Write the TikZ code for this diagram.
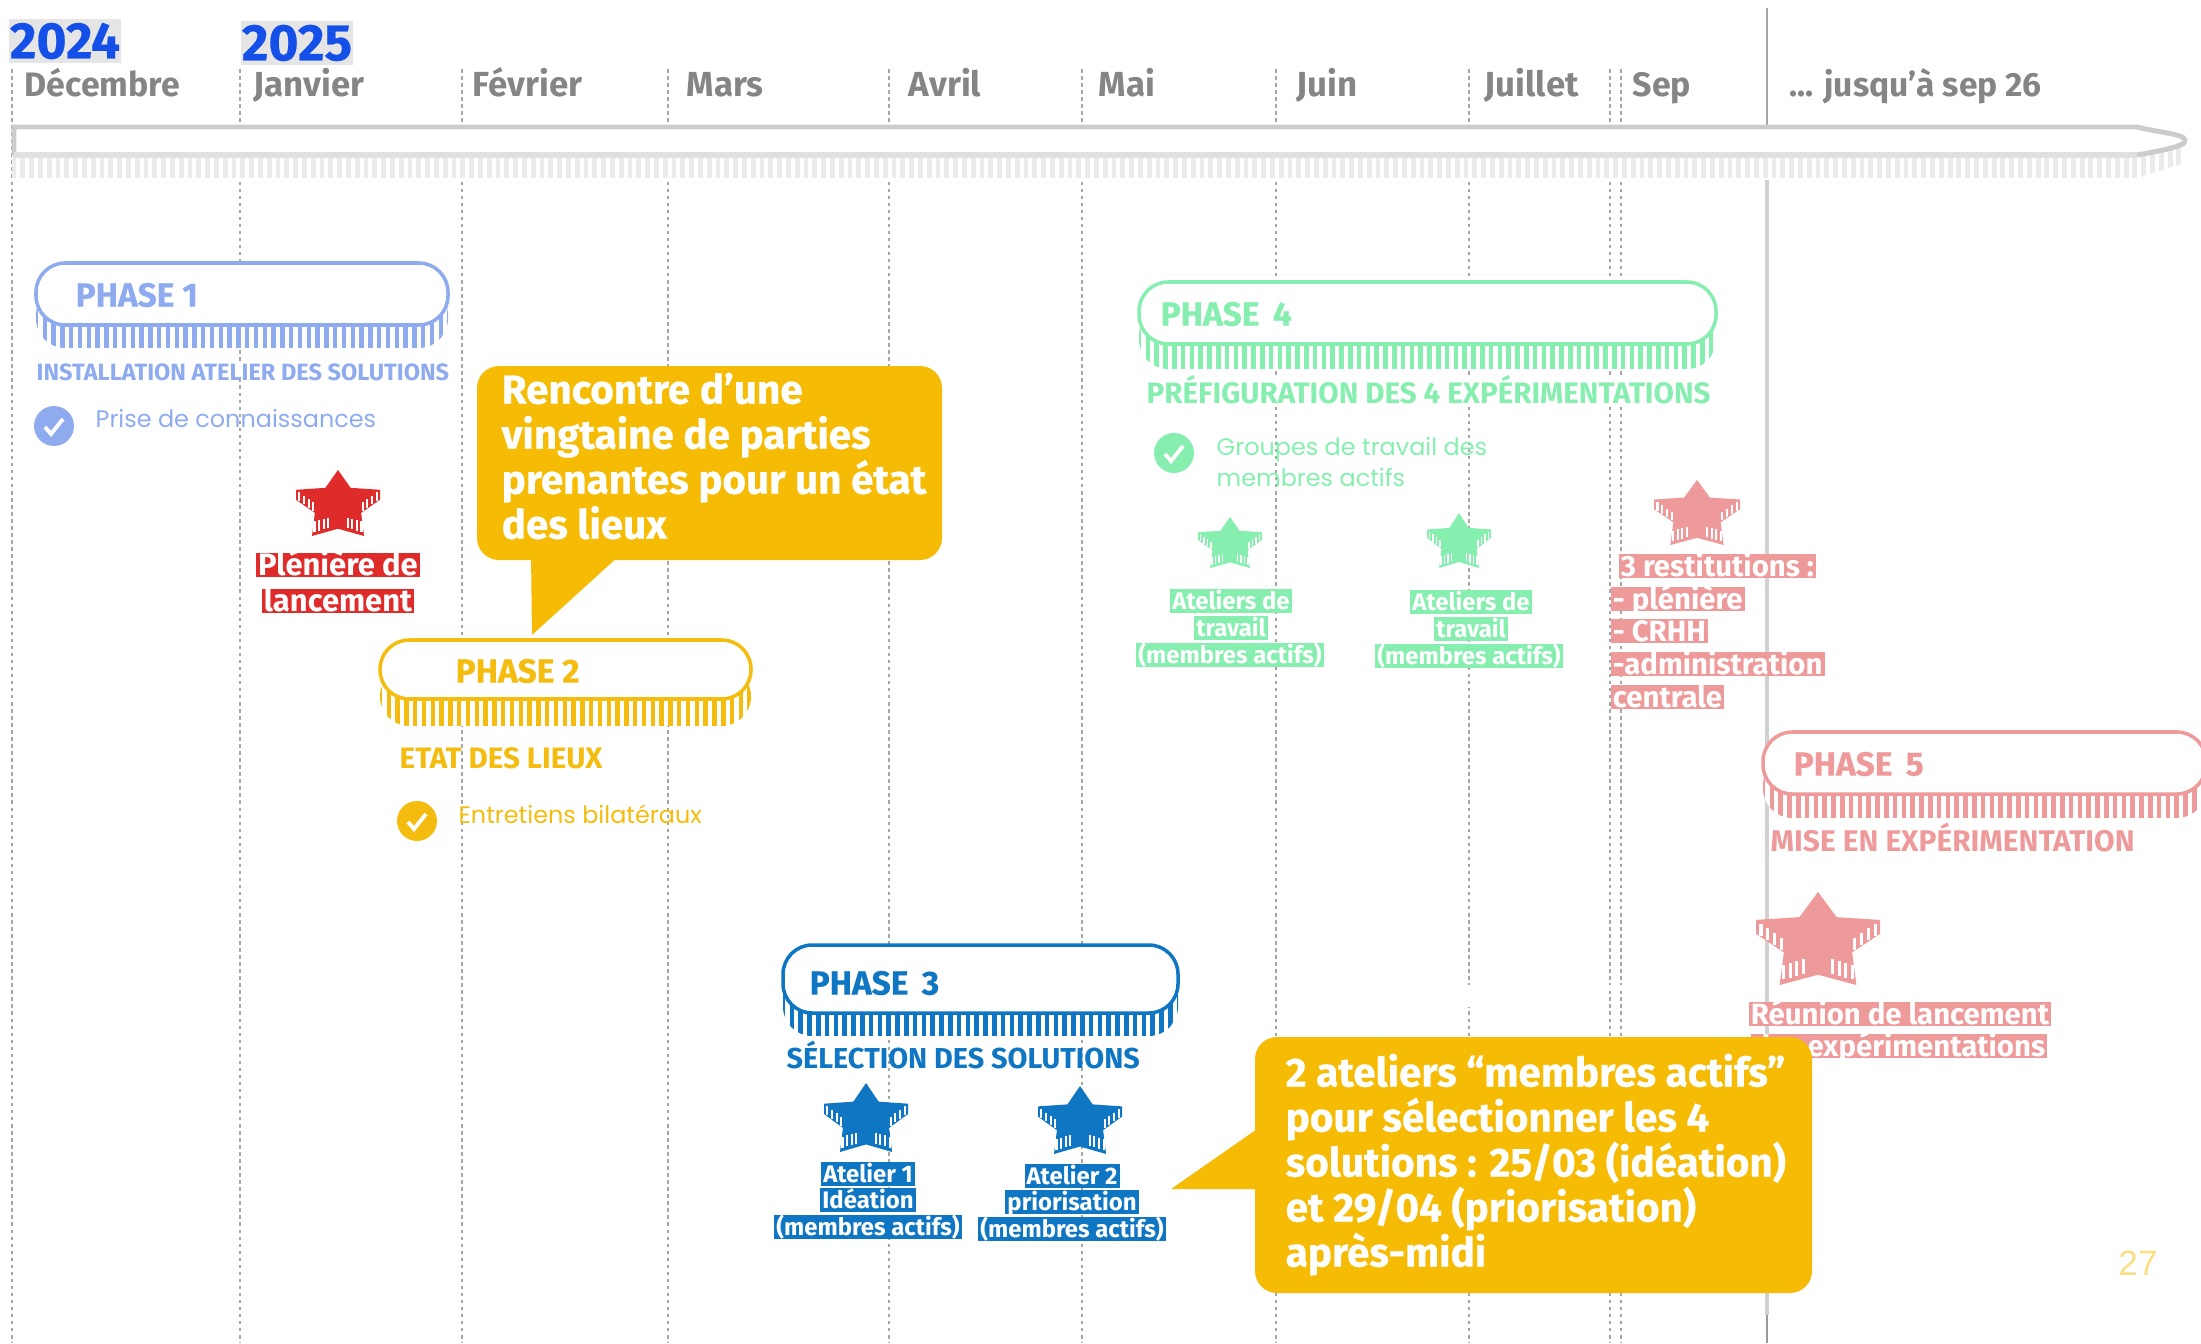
\documentclass[tikz,border=0pt]{standalone}
\usepackage{fontspec}
\setmainfont{Fira Sans}
\newfontfamily\heavyfont{Fira Sans}[BoldFeatures={FakeBold=0.5}]
\newfontfamily\thinfont{Poppins}
\newfontfamily\numfont{Liberation Sans}
\definecolor{phaseA}{HTML}{8FABF0}
\definecolor{phaseB}{HTML}{F5BC10}
\definecolor{phaseC}{HTML}{0E76C2}
\definecolor{phaseD}{HTML}{86EFB0}
\definecolor{phaseE}{HTML}{EF9A9A}
\definecolor{starred}{HTML}{E02B2B}
\definecolor{bubble}{HTML}{F6BC05}
\definecolor{monthgray}{HTML}{858585}
\definecolor{yearblue}{HTML}{1450E8}
\tikzset{
  month/.style={anchor=base west,inner sep=0pt,text=monthgray,font=\fontsize{9.9}{12}\selectfont\bfseries},
  year/.style={anchor=center,fill=black!10,text=yearblue,inner sep=0pt,minimum width=1.12cm,minimum height=0.43cm,font=\fontsize{14.6}{16}\heavyfont\bfseries},
  gridline/.style={black!35,line width=0.4pt,dash pattern=on 1pt off 1pt},
  phasename/.style={anchor=west,inner sep=0pt,font=\fontsize{9.5}{11}\heavyfont\bfseries},
  subtitle/.style={anchor=base west,inner sep=0pt,font=\fontsize{8.4}{10}\selectfont\bfseries},
  note/.style={anchor=west,align=left,inner sep=0pt,font=\fontsize{6.8}{8.8}\thinfont},
  tag/.style={text=white,inner xsep=0.6pt,inner ysep=0pt,text height=5.9pt,text depth=0.8pt,font=\fontsize{6.8}{8}\selectfont\bfseries},
  bigtag/.style={tag,text height=6.3pt,text depth=0.5pt,font=\fontsize{8.35}{10}\selectfont\bfseries},
  bubbletext/.style={anchor=north west,align=left,text=white,inner sep=0pt,font=\fontsize{11.5}{12.8}\heavyfont\bfseries},
}
% stripes under a pill: x1, y1, x2, y2, depth, colour
\newcommand{\pill}[6]{
\begin{scope}
\clip[rounded corners=8.3pt] (#1,#2+#5) rectangle (#3,#4+#5);
\fill[white] (#1,#2) rectangle (#3,#4+#5);
\foreach \k in {0,...,110}
  \draw[#6,line width=1.3pt] (#1+\k*8.8,#2) -- (#1+\k*8.8,#4+#5);
\end{scope}
\draw[#6,fill=white,line width=1pt,rounded corners=8.3pt] (#1,#2) rectangle (#3,#4);
}
% star with slits: cx, top, half width, height, colour
\newcommand{\stripestar}[5]{
\pgfmathsetmacro{\w}{#3}
\pgfmathsetmacro{\h}{#4}
\fill[#5] (#1,#2)--(#1+0.30*\w,#2+0.27*\h)--(#1+\w,#2+0.30*\h)--(#1+\w,#2+0.45*\h)--(#1+0.55*\w,#2+0.65*\h)--(#1+0.62*\w,#2+\h)--(#1,#2+0.89*\h)--(#1-0.62*\w,#2+\h)--(#1-0.55*\w,#2+0.65*\h)--(#1-\w,#2+0.45*\h)--(#1-\w,#2+0.30*\h)--(#1-0.30*\w,#2+0.27*\h)--cycle;
\foreach \k in {0,...,3}{
  \draw[white,line width=\w*0.014pt] (#1+\w*0.92-\k*\w*0.11,#2+0.34*\h+\k*0.05*\h)--++(0,0.13*\h);
  \draw[white,line width=\w*0.014pt] (#1-\w*0.92+\k*\w*0.11,#2+0.34*\h+\k*0.05*\h)--++(0,0.13*\h);
}
\foreach \k in {0,...,3}{
  \draw[white,line width=\w*0.014pt] (#1+\w*0.56-\k*\w*0.11,#2+0.78*\h-\k*0.02*\h)--++(0,0.16*\h);
  \draw[white,line width=\w*0.014pt] (#1-\w*0.56+\k*\w*0.11,#2+0.78*\h-\k*0.02*\h)--++(0,0.16*\h);
}
}
% tick mark disc: cx, cy, colour
\newcommand{\tickdisc}[3]{
\fill[#3] (#1,#2) circle (20);
\draw[white,line width=1.1pt] (#1-9,#2+1)--++(6,7)--++(12,-15);
}
\begin{document}
\begin{tikzpicture}[x=0.01cm,y=-0.01cm]
\useasboundingbox (0,0) rectangle (2201,1343);
%grid
\foreach \x in {12,240,462,668,889,1082,1276,1469,1610,1621}
  \draw[gridline] (\x,69)--(\x,1343);
\fill[white] (1464,985) rectangle (1474,1007);
\fill[white] (1605,985) rectangle (1626,991);
\draw[black!35,line width=0.8pt] (1767,8)--(1767,127);
\draw[black!18,line width=0.9pt] (1767,127)--(1767,1315);
\draw[black!40,line width=0.8pt] (1767,1315)--(1767,1343);
%band
\fill[white] (12,127) rectangle (2190,180);
\begin{scope}
\clip (12,155)--(2137,155)--(2184,141)--(2184,163)--(2137,178)--(12,178)--cycle;
\foreach \k in {0,...,250}
  \draw[black!8,line width=1.4pt] (14+\k*8.8,140)--(14+\k*8.8,180);
\end{scope}
\draw[black!20,line width=1.4pt] (14,155)--(14,127)--(2137,127) .. controls (2165,134) and (2190,134) .. (2184,143) .. controls (2180,147) and (2160,151) .. (2137,155);
\draw[black!12,line width=1.6pt] (14,155)--(2137,155);
\node[year] (yearA) at (65,41) {2024};
\node[year] (yearB) at (297,43) {2025};
\node[month,font=\fontsize{9.65}{12}\selectfont\bfseries] (mDec) at (24,97) {Décembre};
\node[month] (mJan) at (253,97) {Janvier};
\node[month] (mFev) at (472,97) {Février};
\node[month] (mMar) at (686,97) {Mars};
\node[month] (mAvr) at (908,97) {Avril};
\node[month] (mMai) at (1098,97) {Mai};
\node[month] (mJui) at (1296,97) {Juin};
\node[month] (mJul) at (1484,97) {Juillet};
\node[month,font=\fontsize{9.65}{12}\selectfont\bfseries] (mSep) at (1632,97) {Sep};
\node[month,font=\fontsize{9.55}{12}\selectfont\bfseries] (mEnd) at (1789,97) {... jusqu’à sep 26};
%phase 1
\pill{36}{263}{448}{325}{23}{phaseA}
\node[phasename,text=phaseA] (nameA) at (75,295) {PHASE 1};
\node[subtitle,text=phaseA,fill=white,font=\fontsize{6.7}{9}\selectfont\bfseries] (subA) at (36,380) {INSTALLATION ATELIER DES SOLUTIONS};
\tickdisc{54}{426}{phaseA}
\node[note,text=phaseA] (noteA) at (95,419) {Prise de connaissances};
\stripestar{338}{470}{42}{66}{starred}
\node[bigtag,fill=starred,font=\fontsize{8.8}{10}\selectfont\bfseries] (tagA) at (338,565) {Plénière de};
\node[bigtag,fill=starred,font=\fontsize{8.8}{10}\selectfont\bfseries] (tagB) at (338,601) {lancement};
%phase 2
\pill{380}{640}{751}{699}{27}{phaseB}
\node[phasename,text=phaseB] (nameB) at (455,671) {PHASE 2};
\node[subtitle,text=phaseB] (subB) at (399,768) {ETAT DES LIEUX};
\tickdisc{417}{821}{phaseB}
\node[note,text=phaseB] (noteB) at (458,814) {Entretiens bilatéraux};
%phase 3
\pill{783}{945}{1178}{1013}{23}{phaseC}
\node[phasename,text=phaseC] (nameC) at (809,983) {PHASE\, 3};
\node[subtitle,text=phaseC,font=\fontsize{8.2}{10}\selectfont\bfseries] (subC) at (786,1068) {SÉLECTION DES SOLUTIONS};
\stripestar{866}{1083}{42}{69}{phaseC}
\stripestar{1080}{1086}{42}{68}{phaseC}
\node[tag,fill=phaseC] (tagC) at (868,1174) {Atelier 1};
\node[tag,fill=phaseC] (tagD) at (868,1200) {Idéation};
\node[tag,fill=phaseC] (tagE) at (868,1227) {(membres actifs)};
\node[tag,fill=phaseC] (tagF) at (1072,1176) {Atelier 2};
\node[tag,fill=phaseC] (tagG) at (1072,1202) {priorisation};
\node[tag,fill=phaseC] (tagH) at (1072,1229) {(membres actifs)};
%phase 4
\pill{1139}{282}{1716}{344}{25}{phaseD}
\node[phasename,text=phaseD] (nameD) at (1160,314) {PHASE\, 4};
\node[subtitle,text=phaseD,fill=white] (subD) at (1146,403) {PRÉFIGURATION DES 4 EXPÉRIMENTATIONS};
\tickdisc{1174}{453}{phaseD}
\node[note,text=phaseD] (noteC) at (1216,462) {Groupes de travail des\\membres actifs};
\stripestar{1230}{517}{32}{51}{phaseD}
\stripestar{1459}{513}{32}{55}{phaseD}
\stripestar{1697}{480}{43}{65}{phaseE}
\node[tag,fill=phaseD] (tagI) at (1231,601) {Ateliers de};
\node[tag,fill=phaseD] (tagJ) at (1231,628) {travail};
\node[tag,fill=phaseD] (tagK) at (1230,655) {(membres actifs)};
\node[tag,fill=phaseD] (tagL) at (1471,602) {Ateliers de};
\node[tag,fill=phaseD] (tagM) at (1471,629) {travail};
\node[tag,fill=phaseD] (tagN) at (1469,656) {(membres actifs)};
\node[bigtag,fill=phaseE,anchor=west] (tagO) at (1618,566) {3 restitutions :};
\node[bigtag,fill=phaseE,anchor=west] (tagP) at (1610,599) {- plénière};
\node[bigtag,fill=phaseE,anchor=west] (tagQ) at (1610,631) {- CRHH};
\node[bigtag,fill=phaseE,anchor=west] (tagR) at (1610,664) {-administration};
\node[bigtag,fill=phaseE,anchor=west] (tagS) at (1610,697) {centrale};
%phase 5
\begin{scope}
\clip (0,0) rectangle (2201,1343);
\pill{1763}{732}{2206}{794}{24}{phaseE}
\end{scope}
\node[phasename,text=phaseE] (nameE) at (1793,764) {PHASE\, 5};
\node[subtitle,text=phaseE,font=\fontsize{8.5}{10}\selectfont\bfseries] (subE) at (1770,851) {MISE EN EXPÉRIMENTATION};
\stripestar{1818}{892}{62}{93}{phaseE}
\node[bigtag,fill=phaseE] (tagT) at (1900,1014) {Réunion de lancement};
\node[bigtag,fill=phaseE,anchor=east] (tagU) at (2048,1046) {des expérimentations};
%bubbles
\fill[bubble,rounded corners=0.22cm] (477,366) rectangle (942,560);
\fill[bubble] (531,555)--(620,555)--(532,635)--cycle;
\node[bubbletext] (textA) at (501,372) {Rencontre d’une\\vingtaine de parties\\prenantes pour un état\\des lieux};
\fill[bubble,rounded corners=0.22cm] (1255,1037) rectangle (1812,1293);
\fill[bubble] (1260,1127)--(1171,1189)--(1260,1189)--cycle;
\node[bubbletext] (textB) at (1285,1053) {2 ateliers “membres actifs”\\pour sélectionner les 4\\solutions : 25/03 (idéation)\\et 29/04 (priorisation)\\après-midi};
\node[text=bubble!50,font=\fontsize{10}{12}\numfont] (pageno) at (2138,1263) {27};
\end{tikzpicture}
\end{document}
